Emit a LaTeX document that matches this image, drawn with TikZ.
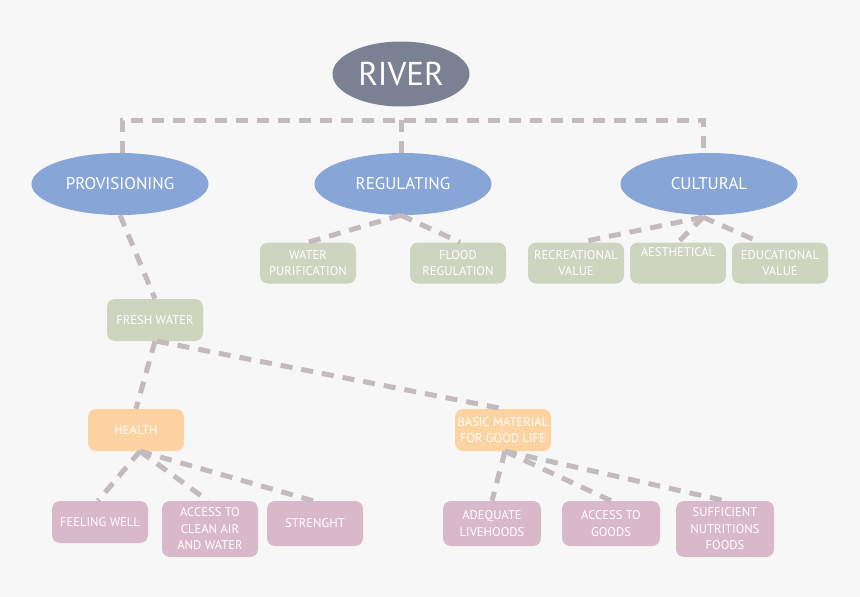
\documentclass[tikz,border=0pt]{standalone}
\usepackage{fontspec}
\setmainfont{PT Sans}
\usetikzlibrary{shapes.geometric}
\definecolor{bgc}{HTML}{F7F7F7}
\definecolor{riverc}{HTML}{7A8193}
\definecolor{ellc}{HTML}{88A5D7}
\definecolor{greenc}{HTML}{CED5BF}
\definecolor{orangec}{HTML}{FDD4A1}
\definecolor{pinkc}{HTML}{D9B9C9}
\definecolor{connc}{HTML}{C3BABE}
\tikzset{
  ell/.style={ellipse, fill=ellc, text=white, inner sep=0pt, minimum width=177pt, minimum height=62pt, font=\fontsize{17}{19}\selectfont},
  riverbox/.style={ellipse, fill=riverc, text=white, inner sep=0pt, minimum width=137pt, minimum height=65pt, font=\fontsize{33}{36}\selectfont},
  boxbase/.style={rounded corners=8pt, text=white, inner sep=0pt, minimum width=96pt, align=center, font=\fontsize{12.6}{16.5}\selectfont},
  gbox/.style={boxbase, fill=greenc, minimum height=41pt},
  obox/.style={boxbase, fill=orangec, minimum height=42pt},
  pbox/.style={boxbase, fill=pinkc, minimum height=45pt},
  conn/.style={draw=connc, line width=5pt, dash pattern=on 12pt off 9pt}
}
\begin{document}
\begin{tikzpicture}[x=1pt,y=-1pt]
\fill[bgc] (0,0) rectangle (860,597);
\useasboundingbox (0,0) rectangle (860,597);
% nodes
\node[riverbox] (river) at (401,74) {RIVER};
\node[ell] (prov) at (120,184) {PROVISIONING};
\node[ell] (reg) at (403,184) {REGULATING};
\node[ell] (cult) at (709,184) {CULTURAL};
\node[gbox] (wp) at (308,263) {WATER\\PURIFICATION};
\node[gbox] (fr) at (458,263) {FLOOD\\REGULATION};
\node[gbox] (rv) at (576,263) {RECREATIONAL\\VALUE};
\node[gbox] (ae) at (678,263) {AESTHETICAL\\[0pt]\strut};
\node[gbox] (ev) at (780,263) {EDUCATIONAL\\VALUE};
\node[gbox, minimum height=42pt] (fw) at (155,320) {FRESH WATER};
\node[obox] (he) at (136,430) {HEALTH};
\node[obox] (bm) at (503,430) {BASIC MATERIAL\\FOR GOOD LIFE};
\node[pbox, minimum height=42pt] (fe) at (100,522) {FEELING WELL};
\node[pbox, minimum height=56pt] (ac) at (210,529) {ACCESS TO\\CLEAN AIR\\AND WATER};
\node[pbox] (st) at (315,523.5) {STRENGHT};
\node[pbox, minimum width=98pt] (al) at (492,523.5) {ADEQUATE\\LIVEHOODS};
\node[pbox, minimum width=98pt] (ag) at (611,523.5) {ACCESS TO\\GOODS};
\node[pbox, minimum width=98pt, minimum height=56pt] (sn) at (725,529) {SUFFICIENT\\NUTRITIONS\\FOODS};
% bus
\coordinate (busL) at (122,120);
\coordinate (busM) at (401,120);
\coordinate (busR) at (703,120);
\draw[conn] ([xshift=2pt]prov.north) -- (busL) -- (busR) -- ([xshift=-6pt]cult.north);
\draw[conn] (busM) -- ([xshift=-2pt]reg.north);
\draw[conn] ([xshift=-2pt]reg.south) -- (wp.north);
\draw[conn] ([xshift=-2pt]reg.south) -- ([xshift=2pt]fr.north);
\draw[conn] ([xshift=-6pt,yshift=-2pt]cult.south) -- ([xshift=4pt]rv.north);
\draw[conn] ([xshift=-6pt,yshift=-2pt]cult.south) -- (ae.north);
\draw[conn] ([xshift=-6pt,yshift=-2pt]cult.south) -- ([xshift=-20pt]ev.north);
\draw[conn] (prov.south) -- (fw.north);
\draw[conn] (fw.south) -- (he.north);
\draw[conn] ([xshift=2pt]fw.south) -- (bm.north);
\draw[conn] ([xshift=4pt]he.south) -- ([xshift=-2pt]fe.north);
\draw[conn] ([xshift=4pt]he.south) -- ([xshift=-2pt]ac.north);
\draw[conn] ([xshift=4pt]he.south) -- ([xshift=-2pt]st.north);
\draw[conn] ([xshift=2pt]bm.south) -- (al.north);
\draw[conn] ([xshift=2pt]bm.south) -- (ag.north);
\draw[conn] ([xshift=2pt]bm.south) -- (sn.north);
\end{tikzpicture}
\end{document}
